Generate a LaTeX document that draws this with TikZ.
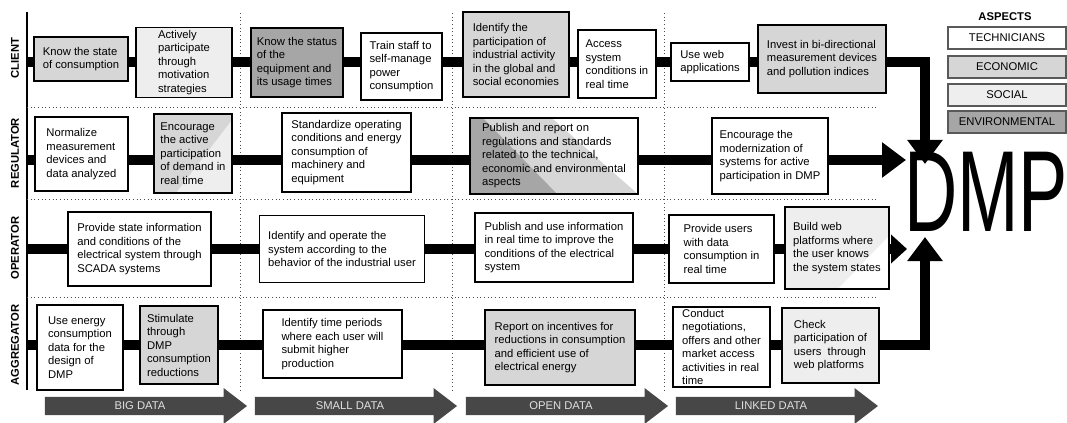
\documentclass[tikz,border=0pt]{standalone}
\usepackage{fontspec}
\setmainfont{Liberation Sans}
\usepackage{graphicx}
\usetikzlibrary{arrows.meta,shapes.arrows}

\definecolor{ecogray}{HTML}{D6D6D6}
\definecolor{socgray}{HTML}{EEEEEE}
\definecolor{envgray}{HTML}{A6A6A6}
\definecolor{arrgray}{HTML}{474747}

\begin{document}
\begin{tikzpicture}[x=0.025cm,y=-0.025cm,
  box/.style={draw,line width=0.9pt,align=left,inner sep=2pt,font=\fontsize{8}{9.6}\selectfont},
  sz/.style 2 args={minimum width=#1*0.025cm,minimum height=#2*0.025cm},
  bar/.style={line width=0.24cm},
  tip/.style={-{Triangle[width=0.85cm,length=0.6cm]}},
  rowname/.style={rotate=90,font=\bfseries\fontsize{8}{9.6}\selectfont},
  legend/.style={draw=black!65,line width=1pt,minimum width=118*0.025cm,minimum height=22*0.025cm,inner sep=0pt,font=\fontsize{8}{9.6}\selectfont},
  dataarrow/.style={single arrow,fill=arrgray,single arrow head extend=0.22cm,single arrow tip angle=75,minimum height=5.05cm,inner xsep=0pt,inner ysep=3.5pt,text=black!12,font=\fontsize{8}{9.6}\selectfont}]
\useasboundingbox (0,0) rectangle (1067,422);
%---- grid of the rows and stages
\draw[line width=0.8pt] (27,12) -- (27,390);
\foreach \x in {240,452,664}{
\draw[dotted,line width=0.6pt,black!70] (\x,13) -- (\x,390); % stage borders
}
\foreach \y in {107,199,297}{
\draw[dotted,line width=0.6pt,black!70] (27,\y) -- (878,\y); % row borders
}
\node[rowname] (client) at (15,58) {CLIENT};
\node[rowname] (regulator) at (15,153) {REGULATOR};
\node[rowname] (operator) at (15,248) {OPERATOR};
\node[rowname] (aggregator) at (15,345) {AGGREGATOR};
\coordinate (cl) at (27,62);
\coordinate (rl) at (27,160);
\coordinate (ol) at (27,249);
\coordinate (al) at (27,345);
\coordinate (tipc) at (925,164);
\coordinate (tipr) at (906,160);
\coordinate (tipo) at (907,249);
\coordinate (tipa) at (925,237);
%---- mixed aspects, filled before the boxes
\fill[ecogray] (154,114) rectangle (232,193);
\fill[socgray] (232,120) -- (232,193) -- (176,193) -- cycle;
\fill[ecogray] (470,118) rectangle (638,194);
\fill[white] (552,118) -- (638,118) -- (638,194) -- cycle;
\fill[envgray] (470,118) -- (483,118) -- (557,194) -- (470,194) -- cycle;
\fill[socgray] (785,207) rectangle (889,289);
\fill[white] (889,236) -- (889,289) -- (838,289) -- cycle;
%---- client
\node[box,sz={94}{44},fill=ecogray,line width=1.3pt] (c1) at (81,59) {Know the state\\of consumption};
\node[box,sz={96}{69},fill=socgray] (c2) at (184,62.5) {Actively\\participate\\through\\motivation\\strategies};
\node[box,sz={92}{69},fill=envgray] (c3) at (297,62.5) {Know the status\\of the\\equipment and\\its usage times};
\node[box,sz={81}{67},fill=white] (c4) at (401.5,66.5) {Train staff to\\self-manage\\power\\consumption};
\node[box,sz={106}{85},fill=ecogray] (c5) at (516,54.5) {Identify the\\participation of\\industrial activity\\in the global and\\social economies};
\node[box,sz={78}{68},fill=white] (c6) at (617,64) {Access\\system\\conditions in\\real time};
\node[box,sz={78}{38},fill=white] (c7) at (710,62) {Use web\\applications};
\node[box,sz={128}{68},fill=ecogray] (c8) at (822,59) {Invest in bi-directional\\measurement devices\\and pollution indices};
%---- regulator
\node[box,sz={93}{74},fill=white] (r1) at (81.5,154) {Normalize\\measurement\\devices and\\data analyzed};
\node[box,sz={78}{79},line width=1.3pt] (r2) at (193,153.5) {Encourage\\the active\\participation\\of demand in\\real time};
\node[box,sz={129}{79},fill=white] (r3) at (346.5,152.5) {Standardize operating\\conditions and energy\\consumption of\\machinery and\\equipment};
\node[box,sz={168}{76},line width=1.3pt] (r4) at (554,156) {Publish and report on\\regulations and standards\\related to the technical,\\economic and environmental\\aspects};
\node[box,sz={116}{76},fill=white] (r5) at (770,156) {Encourage the\\modernization of\\systems for active\\participation in DMP};
%---- operator
\node[box,sz={143}{74},fill=white] (o1) at (139.5,249) {Provide state information\\and conditions of the\\electrical system through\\SCADA systems};
\node[box,sz={165}{67},fill=white] (o2) at (342,249) {Identify and operate the\\system according to the\\behavior of the industrial user};
\node[box,sz={158}{69},fill=white] (o3) at (554,247.5) {Publish and use information\\in real time to improve the\\conditions of the electrical\\system};
\node[box,sz={105}{68},fill=white] (o4) at (721.5,249) {Provide users\\with data\\consumption in\\real time};
\node[box,sz={104}{82},line width=1.3pt] (o5) at (837,248) {Build web\\platforms where\\the user knows\\the system states};
%---- aggregator
\node[box,sz={86}{85},fill=white] (a1) at (80,347.5) {Use energy\\consumption\\data for the\\design of\\DMP};
\node[box,sz={78}{78},fill=ecogray] (a2) at (179,345) {Stimulate\\through\\DMP\\consumption\\reductions};
\node[box,sz={139}{68},fill=white] (a3) at (332.5,344) {Identify time periods\\where each user will\\submit higher\\production};
\node[box,sz={150}{75},fill=ecogray] (a4) at (560,347.5) {Report on incentives for\\reductions in consumption\\and efficient use of\\electrical energy};
\node[box,sz={97}{80},fill=white,inner ysep=0pt] (a5) at (721.5,347) {Conduct\\negotiations,\\offers and other\\market access\\activities in real\\time};
\node[box,sz={97}{75},fill=socgray] (a6) at (830.5,345.5) {Check\\participation of\\users~ through\\web platforms};
%---- thick connectors along each row
\draw[bar] (cl) -- (c1.west |- cl);
\foreach \a/\b in {c1/c2,c2/c3,c3/c4,c4/c5,c5/c6,c6/c7,c7/c8}{
\draw[bar] (\a.east |- cl) -- (\b.west |- cl);
}
\draw[bar] (rl) -- (r1.west |- rl);
\foreach \a/\b in {r1/r2,r2/r3,r3/r4,r4/r5}{
\draw[bar] (\a.east |- rl) -- (\b.west |- rl);
}
\draw[bar] (ol) -- (o1.west |- ol);
\foreach \a/\b in {o1/o2,o2/o3,o3/o4,o4/o5}{
\draw[bar] (\a.east |- ol) -- (\b.west |- ol);
}
\draw[bar] (al) -- (a1.west |- al);
\foreach \a/\b in {a1/a2,a2/a3,a3/a4,a4/a5,a5/a6}{
\draw[bar] (\a.east |- al) -- (\b.west |- al);
}
%---- into DMP
\node[inner sep=0pt] (dmp) at (986,192) {\fontsize{82}{82}\selectfont\scalebox{0.64}[1]{DMP}};
\draw[bar,tip] (c8.east |- cl) -- (tipc |- cl) -- (tipc);
\draw[bar,tip] (r5.east |- rl) -- (tipr);
\draw[bar,-{Triangle[width=0.7cm,length=0.4cm]}] (o5.east |- ol) -- (tipo);
\draw[bar,tip] (a6.east |- al) -- (tipa |- al) -- (tipa);
%---- legend
\node[font=\bfseries\fontsize{8}{9.6}\selectfont] (aspects) at (1005,17) {ASPECTS};
\node[legend,fill=white] (tech) at (1007,38) {TECHNICIANS};
\node[legend,fill=ecogray] (eco) at (1007,67) {ECONOMIC};
\node[legend,fill=socgray] (soc) at (1007,95) {SOCIAL};
\node[legend,fill=envgray] (env) at (1007,122) {ENVIRONMENTAL};
%---- data stages
\node[dataarrow] (bigdata) at (140,406) {BIG DATA};
\node[dataarrow] (smalldata) at (350,406) {SMALL DATA};
\node[dataarrow] (opendata) at (561,406) {OPEN DATA};
\node[dataarrow] (linkeddata) at (771,406) {LINKED DATA};
\end{tikzpicture}
\end{document}
